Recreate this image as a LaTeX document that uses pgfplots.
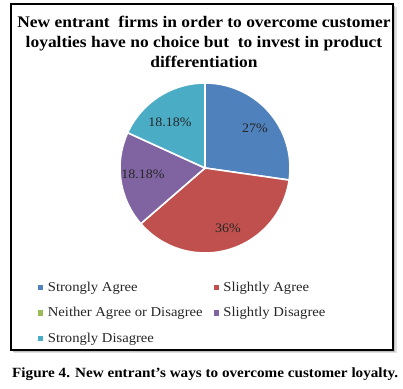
\documentclass[border=0pt]{standalone}
\usepackage{fontspec}
\setmainfont{Liberation Serif}[FakeStretch=1.08]
\usepackage{pgfplots}
\pgfplotsset{compat=1.18}
\definecolor{cSA}{HTML}{4F81BD}
\definecolor{cSlA}{HTML}{C0504D}
\definecolor{cN}{HTML}{9BBB59}
\definecolor{cSlD}{HTML}{8064A2}
\definecolor{cSD}{HTML}{4BACC6}
% percentages of the five answers
\def\vA{27.27}
\def\vB{36.36}
\def\vC{0}
\def\vD{18.18}
\def\vE{18.18}
\pgfmathsetmacro\aO{90}
\pgfmathsetmacro\aA{\aO-3.6*\vA}
\pgfmathsetmacro\aB{\aA-3.6*\vB}
\pgfmathsetmacro\aC{\aB-3.6*\vC}
\pgfmathsetmacro\aD{\aC-3.6*\vD}
\pgfmathsetmacro\aE{\aD-3.6*\vE}
\def\cx{205}\def\cy{221}\def\R{85}
\begin{document}
\begin{tikzpicture}
\begin{axis}[
  width=403bp, height=389bp, scale only axis,
  xmin=0, xmax=403, ymin=0, ymax=389,
  hide axis, clip=false,
  legend columns=2,
  legend image code/.code={\fill[#1, draw=none] (0bp,-2.6bp) rectangle (5.2bp,2.6bp);},
  legend style={at={(axis cs:38,109)}, anchor=north west, draw=none, fill=none,
    font=\fontsize{13.6}{15}\selectfont, text=black!85, row sep=10.5bp,
    /tikz/every odd column/.append style={column sep=2.5bp},
    /tikz/every even column/.append style={column sep=9bp},
    inner sep=0pt, cells={anchor=west}},
]
\path (axis cs:0,0) rectangle (axis cs:403,389);
% frame with shadow
\fill[black!12] (axis cs:14,36) rectangle (axis cs:397,382);
\fill[black!25] (axis cs:13,37) rectangle (axis cs:395,383);
\fill[white, draw=black, line width=1.1bp] (axis cs:11,39) rectangle (axis cs:393,385);
% slices
\addplot[forget plot, fill=cSA, draw=white, line width=1.6bp, domain=\aO:\aA, samples=60, variable=\t]
  ({\cx+\R*cos(\t)},{\cy+\R*sin(\t)}) -- (axis cs:\cx,\cy) -- cycle;
\addplot[forget plot, fill=cSlA, draw=white, line width=1.6bp, domain=\aA:\aB, samples=60, variable=\t]
  ({\cx+\R*cos(\t)},{\cy+\R*sin(\t)}) -- (axis cs:\cx,\cy) -- cycle;
\addplot[forget plot, fill=cSlD, draw=white, line width=1.6bp, domain=\aC:\aD, samples=60, variable=\t]
  ({\cx+\R*cos(\t)},{\cy+\R*sin(\t)}) -- (axis cs:\cx,\cy) -- cycle;
\addplot[forget plot, fill=cSD, draw=white, line width=1.6bp, domain=\aD:\aE, samples=60, variable=\t]
  ({\cx+\R*cos(\t)},{\cy+\R*sin(\t)}) -- (axis cs:\cx,\cy) -- cycle;
% labels
\node[font=\fontsize{13}{14}\selectfont, text=black!85] at (axis cs:255,261) {27\%};
\node[font=\fontsize{13}{14}\selectfont, text=black!85] at (axis cs:228,161) {36\%};
\node[font=\fontsize{13}{14}\selectfont, text=black!85] at (axis cs:143,215) {18.18\%};
\node[font=\fontsize{13}{14}\selectfont, text=black!85] at (axis cs:170,267) {18.18\%};
% legend
\addlegendimage{fill=cSA}\addlegendentry{Strongly Agree}
\addlegendimage{fill=cSlA}\addlegendentry{Slightly Agree}
\addlegendimage{fill=cN}\addlegendentry{Neither Agree or Disagree}
\addlegendimage{fill=cSlD}\addlegendentry{Slightly Disagree}
\addlegendimage{fill=cSD}\addlegendentry{Strongly Disagree}
% title
\node[font=\bfseries\fontsize{16.2}{19.8}\selectfont, align=center, anchor=north]
  at (axis cs:204,376) {New entrant\ \ firms in order to overcome customer\\loyalties have no choice but\ \ to invest in product\\differentiation};
% caption
\node[font=\bfseries\fontsize{14.1}{16}\selectfont, anchor=west, inner sep=0pt] at (axis cs:12,15)
  {Figure 4. New entrant’s ways to overcome customer loyalty.};
\end{axis}
\end{tikzpicture}
\end{document}
